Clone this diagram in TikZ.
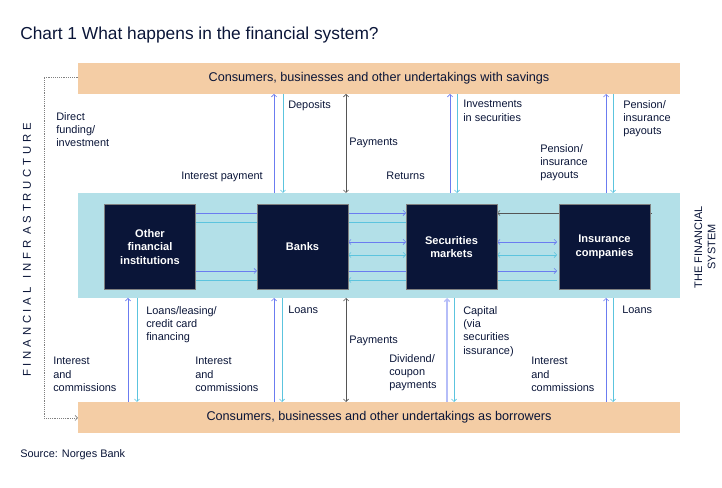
\documentclass[tikz,border=0pt]{standalone}
\usepackage{fontspec}
\setmainfont{Liberation Sans}
\usetikzlibrary{arrows.meta}
\definecolor{sand}{HTML}{F4CDA5}
\definecolor{band}{HTML}{B3E0E8}
\definecolor{navy}{HTML}{0A1538}
\definecolor{flowblue}{HTML}{6B7CF0}
\definecolor{flowcyan}{HTML}{5CC4DE}
\definecolor{flowgray}{HTML}{555555}
\begin{document}
\begin{tikzpicture}[
    x=0.75pt, y=-0.75pt,
    sector/.style={fill=sand, font=\fontsize{9.5}{11}\selectfont, text=navy},
    inst/.style={fill=navy, text=white, draw=gray, align=center,
      font=\bfseries\fontsize{8.3}{10}\selectfont, minimum width=68pt, minimum height=64pt},
    lbl/.style={align=left, anchor=north west, inner sep=0pt, text=navy,
      font=\fontsize{8.2}{10}\selectfont},
    fb/.style={flowblue, -{Straight Barb[length=2pt]}},
    fc/.style={flowcyan, -{Straight Barb[length=2pt]}},
    fg/.style={flowgray, {Straight Barb[length=2pt]}-{Straight Barb[length=2pt]}}
]
\useasboundingbox (0,0) rectangle (722,488);

\node[anchor=west, inner sep=0pt, font=\fontsize{13}{15}\selectfont, text=navy] (title) at (20,35) {Chart 1 What happens in the financial system?};

% sectors and band
\fill[band] (78,193) rectangle (680,298);
\node[sector, minimum width=451.5pt, minimum height=23pt] (savers) at (379,78.5) {Consumers, businesses and other undertakings with savings};
\node[sector, minimum width=451.5pt, minimum height=23pt] (borrowers) at (379,417.5) {Consumers, businesses and other undertakings as borrowers};

% horizontal flows (behind the boxes)
\draw[fb] (193,213) -- (406,213);
\draw[fc] (406,222) -- (193,222);
\draw[flowgray, -{Straight Barb[length=2pt]}] (652,213) -- (497,213);
\draw[fb, {Straight Barb[length=2pt]}-{Straight Barb[length=2pt]}] (348,242) -- (406,242);
\draw[fc, {Straight Barb[length=2pt]}-{Straight Barb[length=2pt]}] (348,255) -- (406,255);
\draw[fb, {Straight Barb[length=2pt]}-{Straight Barb[length=2pt]}] (497,242) -- (557,242);
\draw[fc, {Straight Barb[length=2pt]}-{Straight Barb[length=2pt]}] (497,255) -- (557,255);
\draw[fb] (193,271) -- (257,271);
\draw[fc] (257,280) -- (193,280);
\draw[fb] (322,271) -- (557,271);
\draw[fc] (557,280) -- (348,280);

% institutions
\node[inst] (ofi) at (150,247) {Other\\financial\\institutions};
\node[inst] (banks) at (302.5,247) {Banks};
\node[inst] (secm) at (451.5,247) {Securities\\markets};
\node[inst] (insc) at (604.5,247) {Insurance\\companies};

% vertical flows, top
\draw[fb] (274,193) -- (274,94);
\draw[fc] (283,94) -- (283,193);
\draw[fg] (346,94) -- (346,193);
\draw[fb] (450,193) -- (450,94);
\draw[fc] (457,94) -- (457,193);
\draw[fb] (606,193) -- (606,94);
\draw[fc] (613,94) -- (613,193);

% vertical flows, bottom
\draw[fb] (128,402) -- (128,298);
\draw[fc] (137,298) -- (137,402);
\draw[fb] (274,402) -- (274,298);
\draw[fc] (282,298) -- (282,402);
\draw[fg] (346,298) -- (346,402);
\draw[fb, line width=1pt, flowblue!50] (447,402) -- (447,298);
\draw[fc] (454,298) -- (454,402);
\draw[fb] (606,402) -- (606,298);
\draw[fc] (613,298) -- (613,402);

% infrastructure bracket
\draw[gray, densely dotted, -{Straight Barb[length=2pt]}] (78,77) -- (44,77) -- (44,418) -- (78,418);
\node[rotate=90, text=navy, font=\fontsize{8.5}{10}\selectfont] (infra) at (27,250) {F\,\,I\,\,N\,\,A\,\,N\,\,C\,\,I\,\,A\,\,L\,\,\,\,\,I\,\,N\,\,F\,\,R\,\,\,A\,\,S\,\,T\,\,R\,\,U\,\,C\,\,T\,\,U\,\,R\,\,E};
\node[rotate=90, text=navy, align=center, font=\fontsize{8.2}{10}\selectfont] (finsys) at (705,247) {THE FINANCIAL\\SYSTEM};

% labels, top
\node[lbl] (l1) at (56,112) {Direct\\funding/\\investment};
\node[lbl, anchor=north east] (l2) at (263,172) {Interest payment};
\node[lbl] (l3) at (288,100) {Deposits};
\node[lbl] (l4) at (349,138) {Payments};
\node[lbl, anchor=north east] (l5) at (425,172) {Returns};
\node[lbl] (l6) at (463,100) {Investments\\in securities};
\node[lbl] (l7) at (540,144) {Pension/\\insurance\\payouts};
\node[lbl] (l8) at (623,100) {Pension/\\insurance\\payouts};

% labels, bottom
\node[lbl] (b1) at (146,306) {Loans/leasing/\\credit card\\financing};
\node[lbl] (b2) at (288,306) {Loans};
\node[lbl] (b3) at (349,336) {Payments};
\node[lbl] (b4) at (463,306) {Capital\\(via\\securities\\issurance)};
\node[lbl] (b5) at (622,306) {Loans};
\node[lbl] (b6) at (53,357) {Interest\\and\\commissions};
\node[lbl] (b7) at (195,357) {Interest\\and\\commissions};
\node[lbl] (b8) at (389,354) {Dividend/\\coupon\\payments};
\node[lbl] (b9) at (531,357) {Interest\\and\\commissions};

\node[lbl] (src) at (20,449) {Source: Norges Bank};
\end{tikzpicture}
\end{document}
